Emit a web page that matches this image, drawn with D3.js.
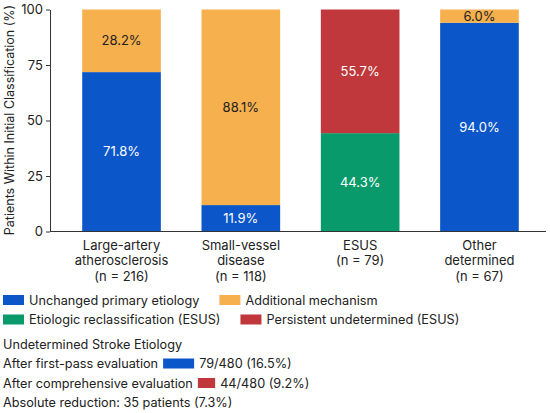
<!DOCTYPE html>
<html><head><meta charset="utf-8">
<script src="https://cdn.jsdelivr.net/npm/d3@7/dist/d3.min.js"></script>
<style>
html,body{margin:0;padding:0;background:#fff;}
text{font-family:Inter,"Liberation Sans",Arial,sans-serif;fill:#222;}
</style></head>
<body>
<svg id="chart" width="550" height="413"></svg>
<script>
const categories = ["Large-artery atherosclerosis", "Small-vessel disease", "ESUS", "Other determined"];
const categoryLines = [["Large-artery","atherosclerosis","(n = 216)"],["Small-vessel","disease","(n = 118)"],["ESUS","(n = 79)"],["Other","determined","(n = 67)"]];
const unchanged = [71.8, 11.9, 0, 94.0];
const additional = [28.2, 88.1, 0, 6.0];
const reclassified = [0, 0, 44.3, 0];
const persistent = [0, 0, 55.7, 0];
const yTicks = [0, 25, 50, 75, 100];
const seriesNames = ["Unchanged primary etiology","Additional mechanism","Etiologic reclassification (ESUS)","Persistent undetermined (ESUS)"];
const summaryLabels = ["After first-pass evaluation","After comprehensive evaluation"];
const summaryCounts = [79, 44];
const summaryTexts = ["79/480 (16.5%)","44/480 (9.2%)"];
const summaryTitle = "Undetermined Stroke Etiology";
const summaryFoot = "Absolute reduction: 35 patients (7.3%)";

const colors = {u:"#0b56c8", a:"#f6b04e", r:"#089a6b", p:"#c0383b"};
const seriesKeys = ["u","a","r","p"];
const seriesData = {u:unchanged, a:additional, r:reclassified, p:persistent};
const stackOrder = ["u","r","a","p"];
const labelColor = {u:"#fff", a:"#222", r:"#fff", p:"#fff"};
const fs = "12.7px";

const svg = d3.select("#chart");
const y = d3.scaleLinear().domain([0,100]).range([231.5, 9.5]);
const x = d3.scaleBand().domain(categories).range([50, 551]).paddingInner(0.341).paddingOuter(0.27);

const rows = categories.map((c,i)=>{const o={cat:c}; seriesKeys.forEach(k=>o[k]=seriesData[k][i]); return o;});
const stack = d3.stack().keys(stackOrder)(rows);

const g = svg.append("g");
stack.forEach(layer=>{
  const k = layer.key;
  layer.forEach((d,i)=>{
    if (d[1]-d[0] <= 0) return;
    g.append("rect").attr("x", x(categories[i])).attr("width", x.bandwidth())
      .attr("y", y(d[1])).attr("height", y(d[0])-y(d[1])).attr("fill", colors[k]);
    g.append("text").attr("x", x(categories[i])+x.bandwidth()/2).attr("y", (y(d[0])+y(d[1]))/2)
      .attr("dy","0.36em").attr("text-anchor","middle").style("font-size","13px")
      .style("fill", labelColor[k]).text((d[1]-d[0]).toFixed(1)+"%");
  });
});

// y axis
const yAxis = svg.append("g").attr("transform","translate(50,0)")
  .call(d3.axisLeft(y).tickValues(yTicks).tickSize(4).tickSizeOuter(0).tickPadding(3));
yAxis.select(".domain").attr("stroke","#333");
yAxis.selectAll(".tick line").attr("stroke","#333");
yAxis.selectAll(".tick text").style("font-size","13px").style("fill","#222").attr("font-family",null);

// x axis line
svg.append("line").attr("x1",50).attr("x2",546).attr("y1",y(0)).attr("y2",y(0)).attr("stroke","#333");

// x labels
categoryLines.forEach((lines,i)=>{
  const t = svg.append("text").attr("text-anchor","middle").style("font-size","13px");
  lines.forEach((l,j)=>{
    t.append("tspan").attr("x", x(categories[i])+x.bandwidth()/2).attr("y", 250 + j*15.3).text(l);
  });
});

// y title
svg.append("text").attr("transform","translate(14,120) rotate(-90)").attr("text-anchor","middle")
  .style("font-size","12.5px").text("Patients Within Initial Classification (%)");

// legend
const legendRows = [[0,1],[2,3]];
legendRows.forEach((row,ri)=>{
  let cx = 3;
  const cy = 300 + ri*19.5;
  row.forEach(si=>{
    svg.append("rect").attr("x",cx).attr("y",cy-5).attr("width",21).attr("height",10).attr("fill",colors[seriesKeys[si]]);
    const t = svg.append("text").attr("x",cx+26).attr("y",cy).attr("dy","0.36em").style("font-size",fs).text(seriesNames[si]);
    cx = cx + 26 + t.node().getComputedTextLength() + 20;
  });
});

// summary
svg.append("text").attr("x",3).attr("y",344).attr("dy","0.36em").style("font-size",fs).text(summaryTitle);
const w = d3.scaleLinear().domain([0,79]).range([0,31]);
const summaryColors = [colors.u, colors.p];
summaryLabels.forEach((lab,i)=>{
  const cy = 363.5 + i*19.5;
  const t = svg.append("text").attr("x",3).attr("y",cy).attr("dy","0.36em").style("font-size",fs).text(lab);
  const sx = 3 + t.node().getComputedTextLength() + 5;
  svg.append("rect").attr("x",sx).attr("y",cy-5).attr("width",w(summaryCounts[i])).attr("height",10).attr("fill",summaryColors[i]);
  svg.append("text").attr("x",sx+w(summaryCounts[i])+5).attr("y",cy).attr("dy","0.36em").style("font-size",fs).text(summaryTexts[i]);
});
svg.append("text").attr("x",3).attr("y",402.5).attr("dy","0.36em").style("font-size",fs).text(summaryFoot);
</script>
</body></html>
